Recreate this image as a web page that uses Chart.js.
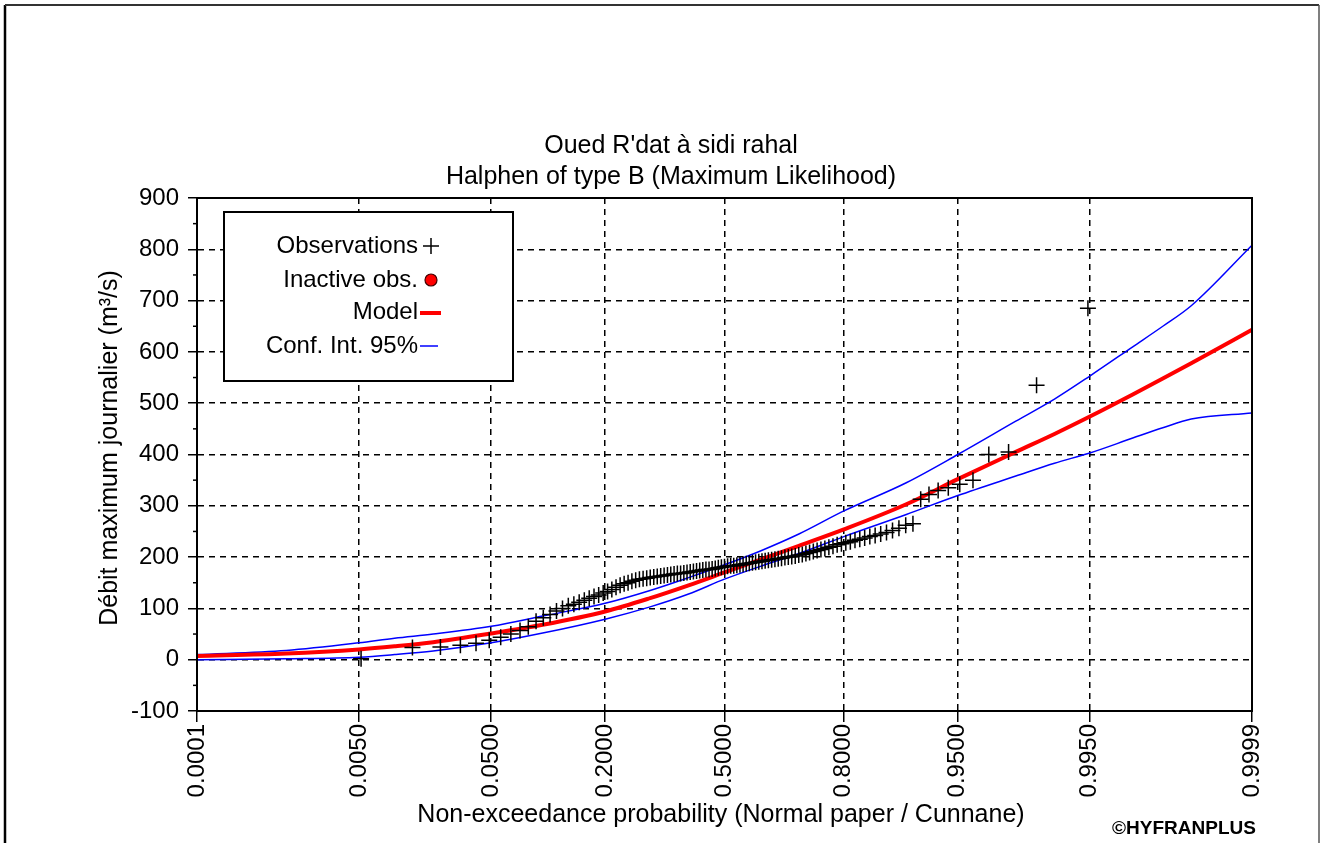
<!DOCTYPE html>
<html><head><meta charset="utf-8">
<script src="https://cdn.jsdelivr.net/npm/chart.js@4.4.1/dist/chart.umd.min.js"></script>
<style>html,body{margin:0;padding:0;background:#fff;overflow:hidden}</style>
</head><body>
<canvas id="c" width="1325" height="843"></canvas>
<script>
// ---------- data ----------
const titleLines = ["Oued R'dat à sidi rahal", "Halphen of type B (Maximum Likelihood)"];
const xTitle = "Non-exceedance probability (Normal paper / Cunnane)";
const yTitle = "Débit maximum journalier (m³/s)";
const legendLabels = ["Observations", "Inactive obs.", "Model", "Conf. Int. 95%"];
const xTickProbs = [0.0001, 0.005, 0.05, 0.2, 0.5, 0.8, 0.95, 0.995, 0.9999];
const xTickLabels = ["0.0001", "0.0050", "0.0500", "0.2000", "0.5000", "0.8000", "0.9500", "0.9950", "0.9999"];

// observations: non-exceedance probability (as plotted) and flow
const obsProb = [0.0052,0.0139,0.0226,0.0313,0.0399,0.0486,0.0573,0.0660,0.0747,0.0833,
0.0920,0.1007,0.1094,0.1181,0.1267,0.1354,0.1441,0.1528,0.1615,0.1701,
0.1788,0.1875,0.1962,0.2049,0.2135,0.2222,0.2309,0.2396,0.2483,0.2569,
0.2656,0.2743,0.2830,0.2917,0.3003,0.3090,0.3177,0.3264,0.3351,0.3438,
0.3524,0.3611,0.3698,0.3785,0.3872,0.3958,0.4045,0.4132,0.4219,0.4306,
0.4392,0.4479,0.4566,0.4653,0.4740,0.4826,0.4913,0.5000,0.5087,0.5174,
0.5260,0.5347,0.5434,0.5521,0.5608,0.5694,0.5781,0.5868,0.5955,0.6042,
0.6128,0.6215,0.6302,0.6389,0.6476,0.6562,0.6649,0.6736,0.6823,0.6910,
0.6997,0.7083,0.7170,0.7257,0.7344,0.7431,0.7517,0.7604,0.7691,0.7778,
0.7865,0.7951,0.8038,0.8125,0.8212,0.8299,0.8385,0.8472,0.8559,0.8646,
0.8733,0.8819,0.8906,0.8993,0.9080,0.9167,0.9253,0.9340,0.9427,0.9514,
0.9601,0.9688,0.9774,0.9861,0.9948];
const obsFlow = [2,24,25,28,32,38,44,50,57,64,
75,82,88,95,100,105,108,112,116,120,
123,126,130,133,137,141,145,148,150,153,
155,157,158,159,160,161,162,163,164,165,
166,167,168,168,169,170,171,172,173,174,
175,176,176,177,178,179,180,181,182,183,
183,184,185,186,187,188,189,190,191,192,
193,194,195,196,197,198,199,200,201,202,
204,205,207,209,211,213,215,217,219,221,
224,226,228,230,233,235,237,240,242,245,
248,252,256,262,265,313,322,330,335,342,
350,400,405,535,685];

// fitted model and 95% confidence interval
const curveProb = [0.0001,0.001,0.005,0.01,0.02,0.05,0.1,0.2,0.3,0.4,0.5,0.6,0.7,0.8,0.9,0.95,0.98,0.99,0.995,0.998,0.999,0.9995,0.9999];
const modelFlow = [7,12,20,26,34,51,68,94,120,145,170,195,222,254,303,352,405,440,474,517,548,578,643];
const upperFlow = [10,18,33,42,50,65,85,110,135,160,185,212,245,290,345,400,465,508,553,610,650,690,808];
const lowerFlow = [0,2,5,10,17,33,52,79,103,128,157,182,207,240,283,320,358,383,403,432,452,469,481];

// ---------- probability (normal paper) scale ----------
function probit(p){
 const a=[-3.969683028665376e+01,2.209460984245205e+02,-2.759285104469687e+02,1.383577518672690e+02,-3.066479806614716e+01,2.506628277459239e+00];
 const b=[-5.447609879822406e+01,1.615858368580409e+02,-1.556989798598866e+02,6.680131188771972e+01,-1.328068155288572e+01];
 const c=[-7.784894002430293e-03,-3.223964580411365e-01,-2.400758277161838e+00,-2.549732539343734e+00,4.374664141464968e+00,2.938163982698783e+00];
 const d=[7.784695709041462e-03,3.224671290700398e-01,2.445134137142996e+00,3.754408661907416e+00];
 const pl=0.02425, ph=1-pl; let q,r;
 if(p<pl){q=Math.sqrt(-2*Math.log(p));return (((((c[0]*q+c[1])*q+c[2])*q+c[3])*q+c[4])*q+c[5])/((((d[0]*q+d[1])*q+d[2])*q+d[3])*q+1);}
 if(p<=ph){q=p-0.5;r=q*q;return (((((a[0]*r+a[1])*r+a[2])*r+a[3])*r+a[4])*r+a[5])*q/(((((b[0]*r+b[1])*r+b[2])*r+b[3])*r+b[4])*r+1);}
 q=Math.sqrt(-2*Math.log(1-p));return -(((((c[0]*q+c[1])*q+c[2])*q+c[3])*q+c[4])*q+c[5])/((((d[0]*q+d[1])*q+d[2])*q+d[3])*q+1);
}
function cdf(z){ // inverse of probit via bisection
 let lo=1e-9, hi=1-1e-9;
 for(let i=0;i<80;i++){const m=(lo+hi)/2; if(probit(m)<z) lo=m; else hi=m;}
 return (lo+hi)/2;
}
class ProbitScale extends Chart.LinearScale {
  determineDataLimits(){ this.min = this.options.min; this.max = this.options.max; }
  buildTicks(){ return xTickProbs.map(v => ({value: v})); }
  getPixelForValue(v){
    const z0 = probit(this.min), z1 = probit(this.max);
    return this.getPixelForDecimal((probit(v) - z0) / (z1 - z0));
  }
  getValueForPixel(px){
    const z0 = probit(this.min), z1 = probit(this.max);
    return cdf(z0 + this.getDecimalForPixel(px) * (z1 - z0));
  }
}
ProbitScale.id = 'probit';
ProbitScale.defaults = Chart.LinearScale.defaults;
Chart.register(ProbitScale);

const FONT = "'Liberation Sans', Arial, sans-serif";
const pts = (px, py) => px.map((p, i) => ({x: p, y: py[i]}));

// ---------- decorations ----------
const decor = {
  id: 'decor',
  beforeDraw(chart){
    const ctx = chart.ctx;
    ctx.save();
    ctx.fillStyle = '#fff';
    ctx.fillRect(0, 0, chart.width, chart.height);
    ctx.restore();
  },
  afterDraw(chart){
    const ctx = chart.ctx, ca = chart.chartArea;
    const ys = chart.scales.y;
    ctx.save();
    // outer frame
    ctx.strokeStyle = '#000'; ctx.lineWidth = 2.5;
    ctx.beginPath(); ctx.moveTo(5, 843); ctx.lineTo(5, 5); ctx.stroke();
    ctx.strokeStyle = '#333'; ctx.lineWidth = 2;
    ctx.beginPath(); ctx.moveTo(5, 5); ctx.lineTo(1319, 5); ctx.stroke();
    ctx.strokeStyle = '#555'; ctx.lineWidth = 1.5;
    ctx.beginPath(); ctx.moveTo(1319, 5); ctx.lineTo(1319, 843); ctx.stroke();
    // plot frame
    ctx.strokeStyle = '#000'; ctx.lineWidth = 2;
    ctx.strokeRect(ca.left, ca.top, ca.right - ca.left, ca.bottom - ca.top);
    // minor y ticks
    ctx.lineWidth = 1.5;
    for (let v = -50; v < 900; v += 100) {
      const py = ys.getPixelForValue(v);
      ctx.beginPath(); ctx.moveTo(ca.left - 4, py); ctx.lineTo(ca.left, py); ctx.stroke();
    }
    // titles
    ctx.fillStyle = '#000';
    ctx.font = '25px ' + FONT;
    ctx.textAlign = 'center'; ctx.textBaseline = 'middle';
    ctx.fillText(titleLines[0], 671, 146);
    ctx.fillText(titleLines[1], 671, 177);
    ctx.fillText(xTitle, 721, 815);
    ctx.save();
    ctx.translate(110, 448); ctx.rotate(-Math.PI / 2);
    ctx.fillText(yTitle, 0, 0);
    ctx.restore();
    ctx.font = 'bold 19px ' + FONT;
    ctx.fillText('©HYFRANPLUS', 1184, 829);
    // legend box
    ctx.fillStyle = '#fff';
    ctx.fillRect(224, 212, 289, 169);
    ctx.strokeStyle = '#000'; ctx.lineWidth = 2;
    ctx.strokeRect(224, 212, 289, 169);
    ctx.fillStyle = '#000';
    ctx.font = '24px ' + FONT;
    ctx.textAlign = 'right';
    const rows = [246, 280, 312, 346];
    legendLabels.forEach((t, i) => ctx.fillText(t, 418, rows[i]));
    // legend symbols
    ctx.lineWidth = 1.5; ctx.strokeStyle = '#000';
    ctx.beginPath(); ctx.moveTo(423, 246); ctx.lineTo(439, 246); ctx.moveTo(431, 238); ctx.lineTo(431, 254); ctx.stroke();
    ctx.beginPath(); ctx.arc(431, 280, 6, 0, Math.PI * 2);
    ctx.fillStyle = '#ff0000'; ctx.fill(); ctx.strokeStyle = '#400'; ctx.lineWidth = 1.2; ctx.stroke();
    ctx.strokeStyle = '#ff0000'; ctx.lineWidth = 4;
    ctx.beginPath(); ctx.moveTo(420, 313); ctx.lineTo(441, 313); ctx.stroke();
    ctx.strokeStyle = '#0000ff'; ctx.lineWidth = 1.5;
    ctx.beginPath(); ctx.moveTo(420, 346); ctx.lineTo(438, 346); ctx.stroke();
    ctx.restore();
  }
};

new Chart(document.getElementById('c'), {
  type: 'line',
  data: {
    datasets: [
      { label: legendLabels[0], data: pts(obsProb, obsFlow), showLine: false,
        pointStyle: 'cross', pointRadius: 8, pointBorderColor: '#000', pointBorderWidth: 1.5,
        pointBackgroundColor: '#000', order: 0 },
      { label: legendLabels[2], data: pts(curveProb, modelFlow), borderColor: '#ff0000', borderWidth: 4,
        pointRadius: 0, cubicInterpolationMode: 'monotone', order: 1 },
      { label: legendLabels[3] + ' up', data: pts(curveProb, upperFlow), borderColor: '#0000ff', borderWidth: 1.5,
        pointRadius: 0, cubicInterpolationMode: 'monotone', order: 2 },
      { label: legendLabels[3] + ' low', data: pts(curveProb, lowerFlow), borderColor: '#0000ff', borderWidth: 1.5,
        pointRadius: 0, cubicInterpolationMode: 'monotone', order: 2 }
    ]
  },
  options: {
    responsive: false, animation: false, devicePixelRatio: 1,
    layout: { padding: { top: 198, right: 73, left: 0, bottom: 0 } },
    plugins: { legend: { display: false }, title: { display: false }, tooltip: { enabled: false } },
    scales: {
      x: {
        type: 'probit', min: 0.0001, max: 0.9999,
        afterFit(s){ s.height = 132; },
        grid: { color: '#000', lineWidth: 1.5, tickLength: 11, tickColor: '#000', tickWidth: 1.5, tickBorderDash: [] },
        border: { display: true, color: '#000', width: 2, dash: [6, 5] },
        ticks: { autoSkip: false, maxRotation: 90, minRotation: 90, padding: 2, color: '#000',
          font: { size: 24, family: FONT },
          callback: (v) => { const i = xTickProbs.indexOf(v); return i >= 0 ? xTickLabels[i] : ''; } }
      },
      y: {
        min: -100, max: 900,
        afterFit(s){ s.width = 197; },
        grid: { color: '#000', lineWidth: 1.5, tickLength: 9, tickColor: '#000', tickWidth: 1.5, tickBorderDash: [] },
        border: { display: true, color: '#000', width: 2, dash: [6, 5] },
        ticks: { stepSize: 100, padding: 9, color: '#000', font: { size: 24, family: FONT } }
      }
    }
  },
  plugins: [decor]
});
</script>
</body></html>
